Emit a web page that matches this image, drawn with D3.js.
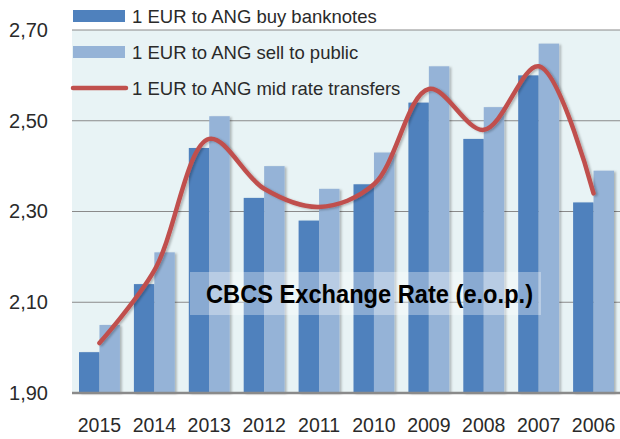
<!DOCTYPE html>
<html>
<head>
<meta charset="utf-8">
<script src="https://cdn.jsdelivr.net/npm/d3@7"></script>
<style>
  body { margin: 0; background: #fff; }
  svg { display: block; font-family: "Liberation Sans", Arial, sans-serif; }
</style>
</head>
<body>
<div id="chart"></div>
<script>
var years = ["2015", "2014", "2013", "2012", "2011", "2010", "2009", "2008", "2007", "2006"];
var buyBanknotes = [1.99, 2.14, 2.44, 2.33, 2.28, 2.36, 2.54, 2.46, 2.60, 2.32];
var sellToPublic = [2.05, 2.21, 2.51, 2.40, 2.35, 2.43, 2.62, 2.53, 2.67, 2.39];
var midTransfers = [2.01, 2.17, 2.46, 2.35, 2.31, 2.36, 2.57, 2.48, 2.62, 2.34];
var yTicks = [1.90, 2.10, 2.30, 2.50, 2.70];
var seriesNames = ["1 EUR to ANG buy banknotes", "1 EUR to ANG sell to public", "1 EUR to ANG mid rate transfers"];

var width = 620, height = 439;
var plotLeft = 72, plotRight = 621, plotTop = 30, plotBottom = 393;

var svg = d3.select("#chart").append("svg")
  .attr("width", width)
  .attr("height", height);

var defs = svg.append("defs");
var sh = defs.append("filter").attr("id", "shadow")
  .attr("x", "-20%").attr("y", "-5%").attr("width", "160%").attr("height", "110%");
sh.append("feDropShadow").attr("dx", 2).attr("dy", 1).attr("stdDeviation", 1.2)
  .attr("flood-color", "#000").attr("flood-opacity", 0.25);

var x = d3.scaleBand().domain(years).range([plotLeft, plotRight]).paddingInner(0.255).paddingOuter(0.1275);
var y = d3.scaleLinear().domain([1.90, 2.70]).range([plotBottom, plotTop]);

// plot background
svg.append("rect")
  .attr("x", plotLeft).attr("y", plotTop)
  .attr("width", plotRight - plotLeft).attr("height", plotBottom - plotTop)
  .attr("fill", "#e8f3f5");

// gridlines
svg.selectAll(".grid").data(yTicks.slice(1)).enter().append("line")
  .attr("x1", plotLeft).attr("x2", plotRight)
  .attr("y1", function(d) { return y(d); })
  .attr("y2", function(d) { return y(d); })
  .attr("stroke", "#8a8a8a").attr("stroke-width", 1);

// y axis labels
var yAxis = d3.axisLeft(y).tickValues(yTicks)
  .tickFormat(function(d) { return d3.format(".2f")(d).replace(".", ","); })
  .tickSize(0).tickPadding(24);
var gy = svg.append("g").attr("transform", "translate(" + plotLeft + ",0)").call(yAxis);
gy.select(".domain").remove();
gy.selectAll("text").attr("font-size", 20).attr("fill", "#2a2a2a")
  .attr("font-family", "'Liberation Sans', Arial, sans-serif");

// bars
var barW = x.bandwidth() / 2;
var groups = svg.selectAll(".yr").data(years).enter().append("g")
  .attr("transform", function(d) { return "translate(" + x(d) + ",0)"; });

groups.append("rect")
  .attr("x", 0)
  .attr("y", function(d, i) { return y(buyBanknotes[i]); })
  .attr("width", barW)
  .attr("height", function(d, i) { return plotBottom - y(buyBanknotes[i]); })
  .attr("fill", "#4f81bd")
  .attr("filter", "url(#shadow)");

groups.append("rect")
  .attr("x", barW)
  .attr("y", function(d, i) { return y(sellToPublic[i]); })
  .attr("width", barW)
  .attr("height", function(d, i) { return plotBottom - y(sellToPublic[i]); })
  .attr("fill", "#95b3d7")
  .attr("filter", "url(#shadow)");

// x axis
var xAxis = d3.axisBottom(x).tickSize(0).tickPadding(25);
var gx = svg.append("g").attr("transform", "translate(0," + plotBottom + ")").call(xAxis);
gx.select(".domain").attr("stroke", "#8a8a8a").attr("stroke-width", 2.5)
  .attr("d", "M" + plotLeft + ",0H" + plotRight);
gx.selectAll("text").attr("font-size", 19.5).attr("fill", "#2a2a2a")
  .attr("font-family", "'Liberation Sans', Arial, sans-serif");

// mid rate line
var line = d3.line()
  .x(function(d, i) { return x(years[i]) + x.bandwidth() / 2; })
  .y(function(d) { return y(d); })
  .curve(d3.curveCatmullRom.alpha(0.5));

svg.append("path")
  .datum(midTransfers)
  .attr("d", line)
  .attr("fill", "none")
  .attr("stroke", "#c0504d")
  .attr("stroke-width", 4.5)
  .attr("stroke-linecap", "round")
  .attr("filter", "url(#shadow)");

// title box
var tb = svg.append("g");
tb.append("rect")
  .attr("x", 190).attr("y", 272).attr("width", 351).attr("height", 43)
  .attr("fill", "#fff").attr("fill-opacity", 0.33);
tb.append("text")
  .attr("x", 206).attr("y", 303)
  .attr("font-family", "'Liberation Sans Narrow', 'Liberation Sans', Arial, sans-serif")
  .attr("font-size", 26).attr("font-weight", "bold").attr("fill", "#000")
  .attr("textLength", 327).attr("lengthAdjust", "spacingAndGlyphs")
  .text("CBCS Exchange Rate (e.o.p.)");

// legend
var legend = svg.append("g");
var rows = legend.selectAll("g").data(seriesNames).enter().append("g")
  .attr("transform", function(d, i) { return "translate(73," + (16 + i * 36) + ")"; });
rows.each(function(d, i) {
  var g = d3.select(this);
  if (i < 2) {
    g.append("rect").attr("x", 0).attr("y", -6).attr("width", 52).attr("height", 12)
      .attr("fill", i === 0 ? "#4f81bd" : "#95b3d7");
  } else {
    g.append("line").attr("x1", 0).attr("x2", 53).attr("y1", 0).attr("y2", 0)
      .attr("stroke", "#c0504d").attr("stroke-width", 4.5).attr("stroke-linecap", "round");
  }
  g.append("text").attr("x", 59).attr("y", 6.5)
    .attr("font-size", 18.5).attr("fill", "#2a2a2a").text(d);
});
</script>
</body>
</html>
